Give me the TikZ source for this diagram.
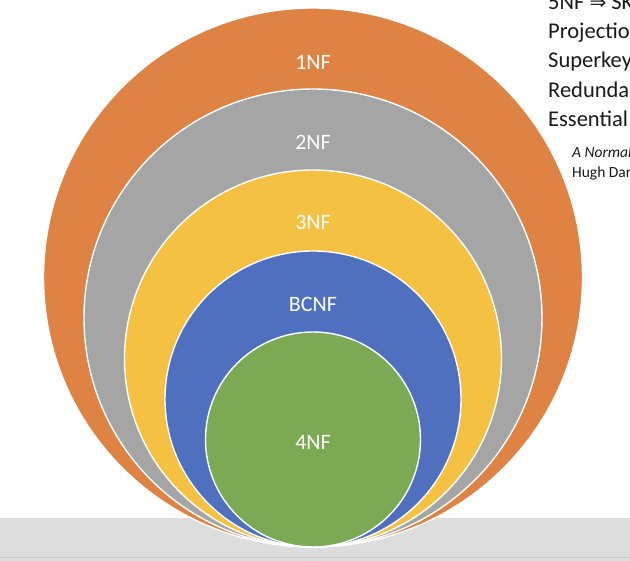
\documentclass[tikz,border=0pt]{standalone}
\usepackage{fontspec}
\setmainfont{Carlito}
\newfontfamily\symfont{DejaVu Sans}
\definecolor{nforange}{RGB}{223,131,68}
\definecolor{nfgray}{RGB}{165,165,165}
\definecolor{nfyellow}{RGB}{244,193,66}
\definecolor{nfblue}{RGB}{78,112,190}
\definecolor{nfgreen}{RGB}{124,170,84}
\definecolor{barfill}{RGB}{220,221,220}
\definecolor{barline}{RGB}{200,201,200}
\definecolor{txt}{RGB}{26,26,26}
\begin{document}
\begin{tikzpicture}[x=1pt,y=-1pt,
  nfcircle/.style={circle, draw=white, line width=1.4pt, inner sep=0pt},
  nflabel/.style={anchor=base, text=white, inner sep=0pt, font=\fontsize{22}{22}\selectfont},
  sidetext/.style={anchor=base west, text=txt, inner sep=0pt, font=\fontsize{22.5}{22.5}\selectfont},
  sidesmall/.style={anchor=base west, text=txt, inner sep=0pt, font=\fontsize{15.5}{15.5}\selectfont}]
\useasboundingbox (0,0) rectangle (630,561);
\clip (0,0) rectangle (630,561);
\fill[white] (0,0) rectangle (630,561);
% bottom bar
\fill[barfill] (0,518) rectangle (630,561);
\draw[barline, line width=1pt] (0,558) -- (630,558);
% nested circles
\node[nfcircle, fill=nforange, minimum size=539pt] (c1) at (313,277.5) {};
\node[nfcircle, fill=nfgray, minimum size=458pt] (c2) at (313,318) {};
\node[nfcircle, fill=nfyellow, minimum size=377pt] (c3) at (313,358.5) {};
\node[nfcircle, fill=nfblue, minimum size=296pt] (c4) at (313,399) {};
\node[nfcircle, fill=nfgreen, minimum size=215pt] (c5) at (313,439.5) {};
% labels
\node[nflabel] (l1) at (313,70) {1NF};
\node[nflabel] (l2) at (313,149.5) {2NF};
\node[nflabel] (l3) at (313,229.5) {3NF};
\node[nflabel] (l4) at (313,311.5) {BCNF};
\node[nflabel] (l5) at (313,449.5) {4NF};
% side text (cut by the picture edge, as in the reference)
\node[sidetext] (t1) at (548,10) {5NF {\symfont\fontsize{20}{20}\selectfont ⇒} SKNF};
\node[sidetext] (t2) at (548,39) {Projection};
\node[sidetext] (t3) at (548,68) {Superkey};
\node[sidetext] (t4) at (548,97.5) {Redundancy};
\node[sidetext] (t5) at (548,126.5) {Essential};
\node[sidesmall] (t6) at (572,158) {\itshape A Normal};
\node[sidesmall] (t7) at (572,178) {Hugh Darwen};
\end{tikzpicture}
\end{document}
